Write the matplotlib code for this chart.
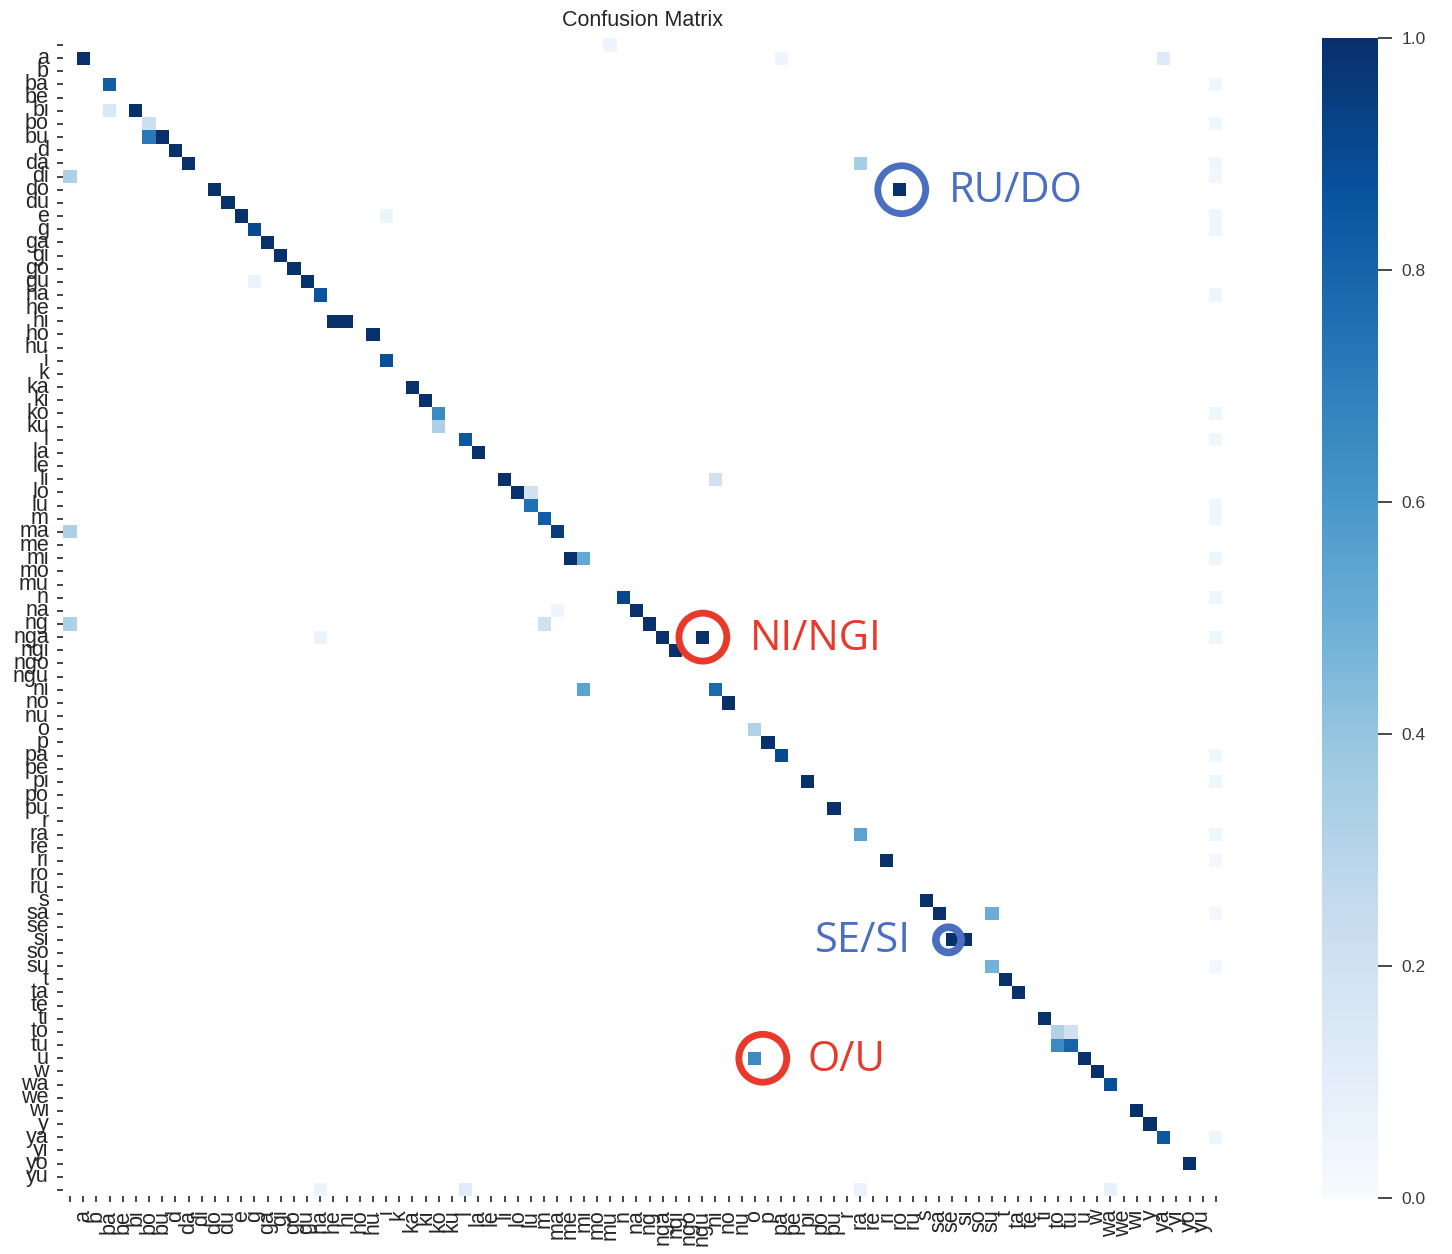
import matplotlib
matplotlib.use('Agg')
import matplotlib.pyplot as plt
import numpy as np
import seaborn as sns

# class labels (blank class at both ends)
syllables = ['a', 'b', 'ba', 'be', 'bi', 'bo', 'bu', 'd', 'da', 'di', 'do', 'du', 'e', 'g',
             'ga', 'gi', 'go', 'gu', 'ha', 'he', 'hi', 'ho', 'hu', 'i', 'k', 'ka', 'ki', 'ko',
             'ku', 'l', 'la', 'le', 'li', 'lo', 'lu', 'm', 'ma', 'me', 'mi', 'mo', 'mu', 'n',
             'na', 'ng', 'nga', 'ngi', 'ngo', 'ngu', 'ni', 'no', 'nu', 'o', 'p', 'pa', 'pe',
             'pi', 'po', 'pu', 'r', 'ra', 're', 'ri', 'ro', 'ru', 's', 'sa', 'se', 'si', 'so',
             'su', 't', 'ta', 'te', 'ti', 'to', 'tu', 'u', 'w', 'wa', 'we', 'wi', 'y', 'ya',
             'yi', 'yo', 'yu']
labels = [' '] + syllables + ['']

# non-zero cells: true label (row), predicted label (column), value
cell_true = [' ',
             'a', 'a', 'a', 'ba', 'ba', 'bi', 'bi', 'bo', 'bo', 'bu', 'bu', 'd',
             'da', 'da', 'da', 'di', 'di', 'do', 'do', 'du', 'e', 'e', 'e', 'g', 'g',
             'ga', 'gi', 'go', 'gu', 'gu', 'ha', 'ha', 'hi', 'hi', 'ho', 'i', 'ka', 'ki',
             'ko', 'ko', 'ku', 'l', 'l', 'la', 'li', 'li', 'lo', 'lo', 'lu', 'lu', 'm', 'm',
             'ma', 'ma', 'mi', 'mi', 'mi', 'n', 'n', 'na', 'na', 'ng', 'ng', 'ng',
             'nga', 'nga', 'nga', 'nga', 'ngi', 'ni', 'ni', 'no', 'o', 'p', 'pa', 'pa',
             'pi', 'pi', 'pu', 'ra', 'ra', 'ri', 'ri', 's', 'sa', 'sa', 'sa', 'si', 'si',
             'su', 'su', 't', 'ta', 'ti', 'to', 'to', 'tu', 'tu', 'u', 'u', 'w', 'wa',
             'wi', 'y', 'ya', 'ya', 'yo', '', '', '', '']
cell_pred = ['mu',
             'a', 'pa', 'ya', 'ba', '', 'ba', 'bi', 'bo', '', 'bo', 'bu', 'd',
             'da', 'ra', '', ' ', '', 'do', 'ro', 'du', 'e', 'i', '', 'g', '',
             'ga', 'gi', 'go', 'gu', 'g', 'ha', '', 'he', 'hi', 'hu', 'i', 'ka', 'ki',
             'ko', '', 'ko', 'l', '', 'la', 'li', 'ni', 'lo', 'lu', 'lu', '', 'm', '',
             ' ', 'ma', 'me', 'mi', '', 'n', '', 'na', 'ma', ' ', 'm', 'ng',
             'ha', 'nga', 'ngu', '', 'ngi', 'mi', 'ni', 'no', 'o', 'p', 'pa', '',
             'pi', '', 'pu', 'ra', '', 'ri', '', 's', 'sa', 'su', '', 'se', 'si',
             'su', '', 't', 'ta', 'ti', 'to', 'tu', 'to', 'tu', 'o', 'u', 'w', 'wa',
             'wi', 'y', 'ya', '', 'yo', 'ha', 'l', 'ra', 'wa']
cell_val = [0.05,
            1.0, 0.05, 0.13, 0.82, 0.04, 0.15, 1.0, 0.22, 0.04, 0.72, 1.0, 1.0,
            1.0, 0.35, 0.04, 0.33, 0.03, 1.0, 1.0, 1.0, 1.0, 0.06, 0.04, 0.9, 0.04,
            1.0, 1.0, 1.0, 1.0, 0.06, 0.86, 0.05, 1.0, 1.0, 1.0, 0.88, 1.0, 1.0,
            0.65, 0.04, 0.33, 0.85, 0.04, 1.0, 1.0, 0.2, 1.0, 0.2, 0.75, 0.04, 0.83, 0.04,
            0.33, 0.95, 1.0, 0.52, 0.05, 0.92, 0.04, 1.0, 0.05, 0.33, 0.2, 1.0,
            0.06, 1.0, 1.0, 0.04, 1.0, 0.55, 0.78, 1.0, 0.32, 1.0, 0.9, 0.04,
            1.0, 0.04, 1.0, 0.55, 0.04, 1.0, 0.03, 1.0, 1.0, 0.5, 0.03, 1.0, 1.0,
            0.48, 0.03, 1.0, 1.0, 1.0, 0.32, 0.2, 0.65, 0.8, 0.65, 1.0, 1.0, 0.88,
            1.0, 1.0, 0.85, 0.05, 1.0, 0.06, 0.12, 0.07, 0.08]

# highlighted confusions: true row, predicted column, text, colour
mark_true = ['do', 'nga', 'si', 'u']
mark_pred = ['ro', 'ngu', 'se', 'o']
mark_text = ['RU/DO', 'NI/NGI', 'SE/SI', 'O/U']
mark_color = ['#4A6FC0', '#E8392A', '#4A6FC0', '#E8392A']

n = len(labels)
cm = np.zeros((n, n))
for t, p, v in zip(cell_true, cell_pred, cell_val):
    cm[labels.index(t), labels.index(p)] = v

sns.set_style('ticks')
plt.rcParams['font.family'] = ['Liberation Sans', 'DejaVu Sans']

fig = plt.figure(figsize=(14.52, 12.54), dpi=100)
ax = fig.add_axes([0.0437, 0.0459, 0.7982, 0.9235])
cax = fig.add_axes([0.9105, 0.0447, 0.0386, 0.925])

sns.heatmap(cm, mask=(cm == 0), cmap='Blues', vmin=0, vmax=1, ax=ax, cbar_ax=cax,
            xticklabels=labels, yticklabels=labels)

ax.set_title('Confusion Matrix', fontsize=15.5, pad=9, color='#262626')
ax.tick_params(axis='y', length=4.5, width=1.2, pad=6, colors='#262626')
ax.tick_params(axis='x', length=4.5, width=1.2, pad=5, colors='#262626')
plt.setp(ax.get_yticklabels(), rotation=0, fontsize=15.5)
plt.setp(ax.get_xticklabels(), rotation=90, fontsize=15.5)

cax.tick_params(length=10, width=1.3, pad=7, labelsize=12.5, colors='#3a3a3a')
cax.set_yticks([0.0, 0.2, 0.4, 0.6, 0.8, 1.0])
cax.set_yticklabels(['0.0', '0.2', '0.4', '0.6', '0.8', '1.0'])

# overlay circles and callout text
offsets_x = {'RU/DO': 0.15, 'NI/NGI': 0.05, 'SE/SI': -0.3, 'O/U': 0.6}
text_dx = {'RU/DO': 35, 'NI/NGI': 34, 'SE/SI': -30, 'O/U': 38}
for t, p, txt, col in zip(mark_true, mark_pred, mark_text, mark_color):
    cx = labels.index(p) + 0.5
    cy = labels.index(t) + 0.5
    small = txt == 'SE/SI'
    ax.scatter([cx + offsets_x[txt]], [cy], s=330 if small else 1190, facecolors='none',
               edgecolors=col, linewidths=5.5 if small else 4.9, zorder=5, clip_on=False)
    ax.annotate(txt, xy=(cx, cy), xytext=(text_dx[txt], -9), textcoords='offset points',
                ha='right' if small else 'left', va='baseline', fontsize=30,
                family='Open Sans', color=col, zorder=6)

fig.savefig('out.png', dpi=100)
